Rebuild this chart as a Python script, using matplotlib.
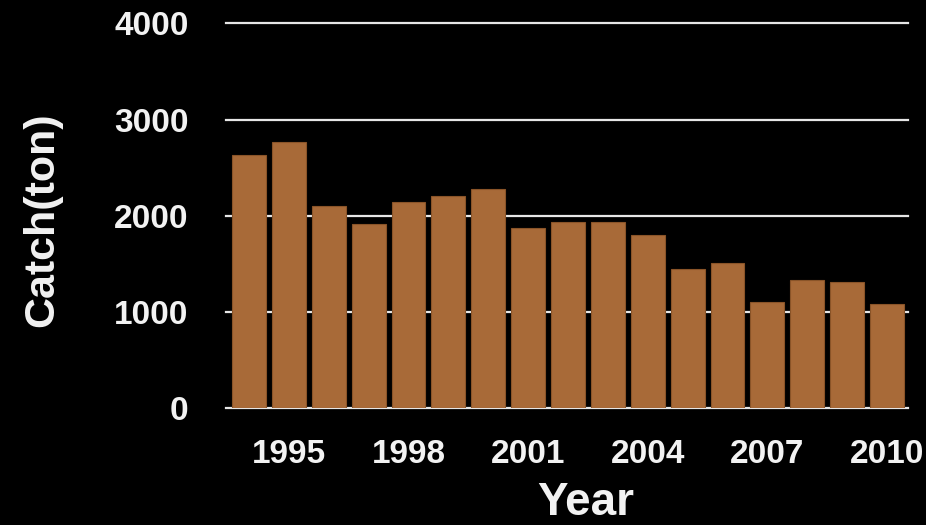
import matplotlib
matplotlib.use('Agg')
import matplotlib.pyplot as plt

# Annual catch
years = list(range(1994, 2011))
catch = [2635, 2770, 2100, 1918, 2143, 2209, 2278, 1870, 1939, 1939,
         1804, 1447, 1513, 1104, 1330, 1309, 1084]
xticks = [1995, 1998, 2001, 2004, 2007, 2010]
yticks = [0, 1000, 2000, 3000, 4000]

plt.rcParams['font.family'] = ['Liberation Sans', 'DejaVu Sans']
plt.rcParams['font.weight'] = 'bold'

fig = plt.figure(figsize=(9.26, 5.25), dpi=100, facecolor='black')
ax = fig.add_axes([0.244, 0.2223, 0.7366, 0.7333], facecolor='black')

ax.bar(years, catch, width=0.85, color='#a86a38', edgecolor='#8a5428', lw=0.8)

ax.set_xlim(1993.42, 2010.53)
ax.set_ylim(0, 4000)
ax.set_xticks(xticks)
ax.set_yticks(yticks)
ax.tick_params(axis='both', length=0, colors='#f2f2f2', labelsize=24)
ax.tick_params(axis='x', pad=22)
ax.tick_params(axis='y', pad=27)
for lab in ax.get_xticklabels() + ax.get_yticklabels():
    lab.set_fontweight('bold')

ax.set_axisbelow(True)
ax.yaxis.grid(True, color='#e6e6e6', lw=1.6)
for line in ax.get_ygridlines():
    line.set_clip_on(False)
for s in ax.spines.values():
    s.set_visible(False)

ax.set_ylabel('Catch(ton)', fontsize=31, fontweight='bold', color='#f2f2f2')
ax.yaxis.set_label_coords(-0.24, 0.49)
ax.set_xlabel('Year', fontsize=33, fontweight='bold', color='#f2f2f2')
ax.xaxis.set_label_coords(0.528, -0.188)

plt.savefig('out.png', dpi=100, facecolor='black')
plt.close()
